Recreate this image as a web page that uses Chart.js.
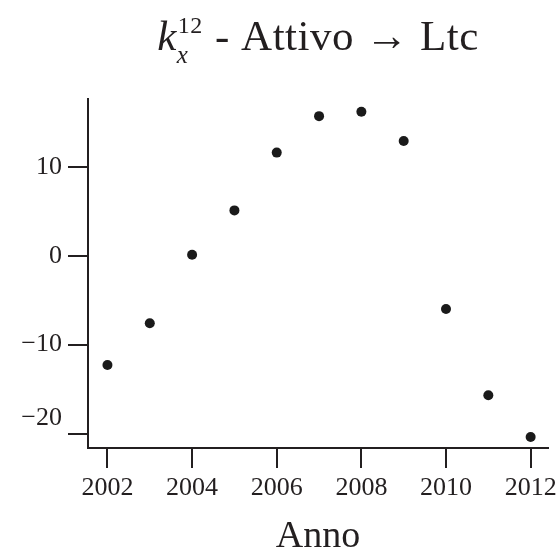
<!DOCTYPE html>
<html>
<head>
<meta charset="utf-8">
<script src="https://cdn.jsdelivr.net/npm/chart.js@4.4.1/dist/chart.umd.min.js"></script>
<style>
	html, body { margin: 0; padding: 0; background: #fff; }
	#wrap { width: 556px; height: 554px; }
</style>
</head>
<body>
<div id="wrap"><canvas id="mycanvas" width="556" height="554"></canvas></div>
<script>
var years = [2002, 2003, 2004, 2005, 2006, 2007, 2008, 2009, 2010, 2011, 2012];
var values = [-12.3, -7.6, 0.1, 5.1, 11.6, 15.7, 16.2, 12.9, -6.0, -15.7, -20.4];
var xTicks = [2002, 2004, 2006, 2008, 2010, 2012];
var yTicks = [-20, -10, 0, 10];
var yTickLabels = [['\u221220', ''], '\u221210', '0', '10'];

var serif = '"Liberation Serif", "Times New Roman", serif';
var ink = '#231f20';

var points = [];
for (var i in years) {
	points.push({x: years[i], y: values[i]});
}

// title with sub/superscript on k, drawn as canvas text
var titlePlugin = {
	id: 'mathTitle',
	afterDraw: function(chart) {
		var ctx = chart.ctx;
		var area = chart.chartArea;
		var big = '43px ' + serif;
		var bigIt = 'italic 43px ' + serif;
		var small = '24px ' + serif;
		var smallIt = 'italic 25px ' + serif;
		var rest = ' - Attivo \u2192 Ltc';

		ctx.save();
		ctx.fillStyle = ink;
		ctx.textBaseline = 'alphabetic';
		ctx.textAlign = 'left';
		ctx.letterSpacing = '0.5px';

		ctx.font = bigIt;
		var wk = ctx.measureText('k').width;
		ctx.font = small;
		var wsup = ctx.measureText('12').width;
		ctx.font = smallIt;
		var wsub = ctx.measureText('x').width;
		var ws = Math.max(wsup, wsub) + 2;
		ctx.font = big;
		var wr = ctx.measureText(rest).width;

		var total = wk + ws + wr;
		var x = (area.left + area.right) / 2 - total / 2;
		var base = 50;

		ctx.font = bigIt;
		ctx.fillText('k', x, base);
		ctx.font = small;
		ctx.fillText('12', x + wk + 1, base - 17);
		ctx.font = smallIt;
		ctx.fillText('x', x + wk, base + 13);
		ctx.font = big;
		ctx.fillText(rest, x + wk + ws, base);
		ctx.restore();
	}
};

var ctx = document.getElementById('mycanvas');

var chart = new Chart(ctx, {
	type: 'scatter',
	data: {
		datasets: [
			{
				label: 'k12x',
				data: points,
				backgroundColor: '#1a1a1a',
				borderWidth: 0,
				pointRadius: 5,
				pointHoverRadius: 5
			}
		]
	},
	options: {
		responsive: false,
		animation: false,
		layout: {
			autoPadding: false,
			padding: {top: 99, right: 8, bottom: 0, left: 0}
		},
		plugins: {
			legend: {display: false},
			tooltip: {enabled: false},
			title: {display: false}
		},
		scales: {
			x: {
				type: 'linear',
				min: 2001.54,
				max: 2012.41,
				afterBuildTicks: function(scale) {
					scale.ticks = xTicks.map(function(v) { return {value: v}; });
				},
				afterFit: function(scale) {
					scale.height = 106;
					scale.paddingLeft = 0;
					scale.paddingRight = 0;
				},
				grid: {
					drawOnChartArea: false,
					drawTicks: true,
					tickLength: 20,
					lineWidth: 2,
					color: ink
				},
				border: {display: true, color: ink, width: 2},
				ticks: {
					padding: 5,
					maxRotation: 0,
					color: ink,
					font: {family: serif, size: 26},
					callback: function(value) { return String(value); }
				},
				title: {
					display: true,
					text: 'Anno',
					color: ink,
					padding: 0,
					font: {family: serif, size: 38, lineHeight: 0.9}
				}
			},
			y: {
				type: 'linear',
				min: -21.63,
				max: 17.63,
				afterBuildTicks: function(scale) {
					scale.ticks = yTicks.map(function(v) { return {value: v}; });
				},
				afterFit: function(scale) {
					scale.width = 88;
					scale.paddingTop = 0;
					scale.paddingBottom = 0;
				},
				grid: {
					drawOnChartArea: false,
					drawTicks: true,
					tickLength: 20,
					lineWidth: 2,
					color: ink
				},
				border: {display: true, color: ink, width: 2},
				ticks: {
					padding: 6,
					color: ink,
					font: {family: serif, size: 26},
					callback: function(value) {
						return yTickLabels[yTicks.indexOf(value)];
					}
				}
			}
		}
	},
	plugins: [titlePlugin]
});
</script>
</body>
</html>
